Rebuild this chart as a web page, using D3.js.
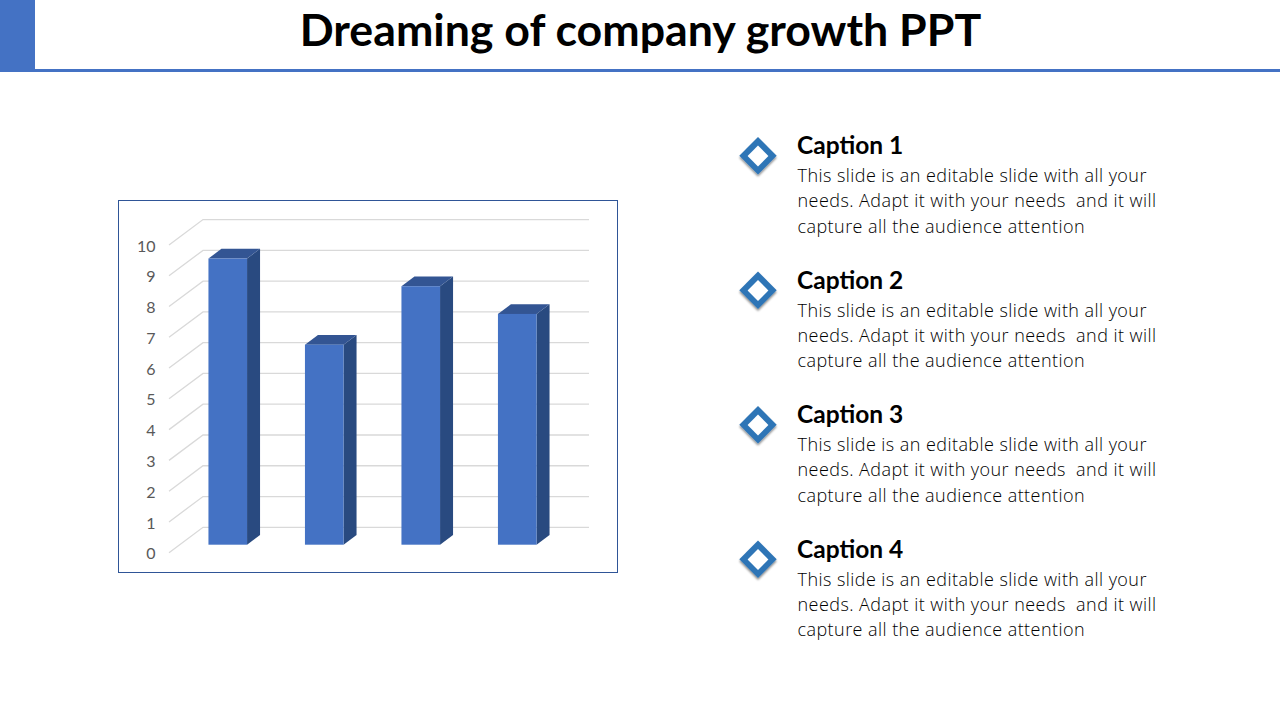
<!DOCTYPE html>
<html><head><meta charset="utf-8">
<script src="https://cdn.jsdelivr.net/npm/d3@7/dist/d3.min.js"></script>
<style>html,body{margin:0;padding:0;background:#fff}svg{display:block}</style>
</head><body><svg id="c" width="1280" height="720"></svg>
<script>
const titleText = "Dreaming of company growth PPT";
const categories = ["A","B","C","D"];
const values = [9.3,6.5,8.4,7.5];
const ticks = [0,1,2,3,4,5,6,7,8,9,10];
const captions = ["Caption 1","Caption 2","Caption 3","Caption 4"];
const bodyLines = ["This slide is an editable slide with all your","needs. Adapt it with your needs  and it will","capture all the audience attention"];

const svg = d3.select("#c");
const defs = svg.append("defs");
const f = defs.append("filter").attr("id","sh").attr("x","-30%").attr("y","-30%").attr("width","160%").attr("height","160%");
f.append("feDropShadow").attr("dx",0).attr("dy",2).attr("stdDeviation",1.2).attr("flood-color","#000").attr("flood-opacity",0.45);
const f2 = defs.append("filter").attr("id","soft");
f2.append("feGaussianBlur").attr("stdDeviation",0.5);

// header
svg.append("rect").attr("x",0).attr("y",0).attr("width",35).attr("height",71).attr("fill","#4472c4");
svg.append("rect").attr("x",0).attr("y",69).attr("width",1280).attr("height",3).attr("fill","#4472c4");
svg.append("text").attr("x",640.5).attr("y",46).attr("text-anchor","middle")
  .attr("font-family","Lato").attr("font-weight",700).attr("font-size",44.7).attr("fill","#000").text(titleText);

// chart frame
svg.append("rect").attr("x",118.5).attr("y",200.5).attr("width",499).attr("height",372)
  .attr("fill","#fff").attr("stroke","#2f5597").attr("stroke-width",1);

const y = d3.scaleLinear().domain([0,10]).range([552.7,245]);
const x = d3.scaleBand().domain(categories).range([179.5,565.5]).paddingInner(0.6).paddingOuter(0.3);
const wallDx = 34, wallDy = -25.4, wallRight = 589;
const barZ = 8, barDx = 13, barDy = -9.7; // bar floor offset from the front edge, bar depth

const grid = svg.append("g").attr("fill","none").attr("stroke","#d9d9d9").attr("stroke-width",1.3);
grid.selectAll("path").data(ticks).join("path")
  .attr("d",t=>`M169,${y(t)}L${169+wallDx},${y(t)+wallDy}L${wallRight},${y(t)+wallDy}`);

const axis = svg.append("g").attr("transform","translate(155.5,1)")
  .call(d3.axisLeft(y).tickValues(ticks).tickSize(0).tickPadding(0).tickFormat(d3.format("d")));
axis.select(".domain").remove();
axis.selectAll("text").attr("font-family","Lato").attr("font-size",16).attr("fill","#595959");

const base = y(0) - barZ;
const bars = svg.append("g").selectAll("g").data(values).join("g");
const bx = (d,i)=>x(categories[i]);
const w = x.bandwidth();
const barTop = d => base - (y(0)-y(d));
bars.append("path").attr("fill","#294a80")
  .attr("d",(d,i)=>{const r=bx(d,i)+w;return `M${r},${base}L${r+barDx},${base+barDy}L${r+barDx},${barTop(d)+barDy}L${r},${barTop(d)}Z`;});
bars.append("path").attr("fill","#335593")
  .attr("d",(d,i)=>{const l=bx(d,i);return `M${l},${barTop(d)}L${l+barDx},${barTop(d)+barDy}L${l+w+barDx},${barTop(d)+barDy}L${l+w},${barTop(d)}Z`;});
bars.append("rect").attr("fill","#4472c4").attr("x",(d,i)=>bx(d,i)).attr("y",d=>barTop(d)).attr("width",w).attr("height",d=>base-barTop(d));

// captions
const rowY = d3.scalePoint().domain(captions).range([0,403.5]);
const rows = svg.append("g").selectAll("g").data(captions).join("g").attr("transform",d=>`translate(0,${rowY(d)})`);
const diamond = (cx,cy,r)=>`M${cx},${cy-r}L${cx+r},${cy}L${cx},${cy+r}L${cx-r},${cy}Z`;
rows.append("path").attr("fill","#2e75b6").attr("filter","url(#sh)").attr("d",diamond(758,155.7,18.7));
rows.append("path").attr("fill","#fff").attr("filter","url(#soft)").attr("d",diamond(758,156,10.4));
rows.append("text").attr("x",797).attr("y",154.4).attr("font-family","Lato").attr("font-weight",700)
  .attr("font-size",24.5).attr("fill","#000").text(d=>d);
rows.each(function(){
  d3.select(this).selectAll("text.b").data(bodyLines).join("text").attr("class","b")
    .attr("x",797.5).attr("y",(d,i)=>182+i*25.4).attr("font-family","Open Sans").attr("font-weight",300)
    .attr("font-size",18).attr("letter-spacing",0.44).attr("fill","#000").style("white-space","pre").text(d=>d);
});
</script></body></html>
